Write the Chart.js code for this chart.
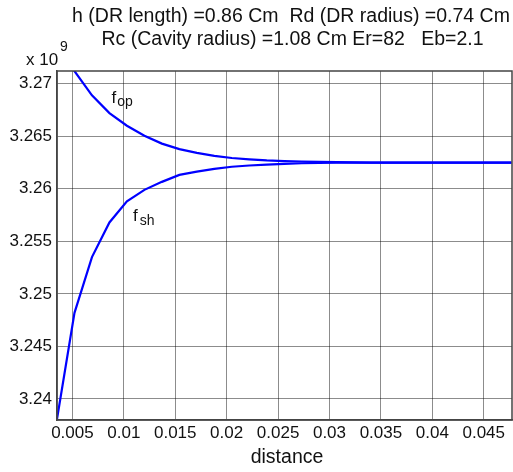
<!DOCTYPE html>
<html lang="en">

<head>
    <meta charset="UTF-8">
    <title>fop / fsh vs distance</title>
    <script src="https://cdn.jsdelivr.net/npm/chart.js"></script>
    <style>
        html, body { margin: 0; padding: 0; background: #fff; }
        #wrap { width: 513px; height: 472px; }
    </style>
</head>

<body>
    <div id="wrap">
        <canvas id="freqChart" width="513" height="472"></canvas>
    </div>

    <script>
        // distance (x) and the two resonance curves, in units of 1e9 Hz
        const distance = [0.0035, 0.0052, 0.0069, 0.0086, 0.0103, 0.012, 0.0137, 0.0154, 0.0171, 0.0188,
            0.0205, 0.0222, 0.0239, 0.0256, 0.0273, 0.029, 0.0307, 0.0324, 0.0341, 0.0358,
            0.0375, 0.0392, 0.0409, 0.0426, 0.0443, 0.046, 0.0477];
        const fop = [3.2741, 3.2712, 3.2689, 3.2672, 3.2660, 3.26505, 3.2643, 3.26378, 3.26342, 3.26314,
            3.26293, 3.2628, 3.2627, 3.26264, 3.2626, 3.26256, 3.26253, 3.26251, 3.2625, 3.2625,
            3.2625, 3.2625, 3.2625, 3.2625, 3.2625, 3.2625, 3.2625];
        const fsh = [3.2381, 3.2482, 3.2535, 3.2568, 3.2588, 3.2599, 3.26066, 3.26132, 3.26164, 3.2619,
            3.2621, 3.26222, 3.2623, 3.26238, 3.26243, 3.26247, 3.26249, 3.2625, 3.2625, 3.2625,
            3.2625, 3.2625, 3.2625, 3.2625, 3.2625, 3.2625, 3.2625];

        const xTicks = [0.005, 0.01, 0.015, 0.02, 0.025, 0.03, 0.035, 0.04, 0.045];
        const xTickLabels = ['0.005', '0.01', '0.015', '0.02', '0.025', '0.03', '0.035', '0.04', '0.045'];
        const yTicks = [3.24, 3.245, 3.25, 3.255, 3.26, 3.265, 3.27];
        const yTickLabels = ['3.24', '3.245', '3.25', '3.255', '3.26', '3.265', '3.27'];

        const titleLines = ['h (DR length) =0.86 Cm  Rd (DR radius) =0.74 Cm', 'Rc (Cavity radius) =1.08 Cm Er=82   Eb=2.1'];

        const FONT = '"Liberation Sans", Arial, sans-serif';

        const toPoints = (ys) => distance.map((x, i) => ({ x: x, y: ys[i] }));

        // titles, exponent, curve names and the plot box
        const textPlugin = {
            id: 'textPlugin',
            afterDraw(chart) {
                const ctx = chart.ctx;
                const area = chart.chartArea;
                const xs = chart.scales.x;
                const ys = chart.scales.y;
                ctx.save();

                ctx.strokeStyle = '#444';
                ctx.lineWidth = 1.5;
                ctx.strokeRect(area.left, area.top, area.right - area.left, area.bottom - area.top);

                ctx.fillStyle = '#111';
                ctx.textBaseline = 'middle';
                ctx.textAlign = 'center';
                ctx.font = '19.5px ' + FONT;
                ctx.fillText(titleLines[0], 291, 17);
                ctx.fillText(titleLines[1], 292.5, 39.5);

                ctx.fillText('distance', 287, 458);

                // x 10^9
                ctx.textAlign = 'left';
                ctx.font = '17px ' + FONT;
                ctx.fillText('x 10', 26, 60);
                ctx.font = '14px ' + FONT;
                ctx.fillText('9', 60, 47);

                // curve names
                ctx.font = '17px ' + FONT;
                ctx.fillText('f', xs.getPixelForValue(0.0088), ys.getPixelForValue(3.26865));
                ctx.font = '14px ' + FONT;
                ctx.fillText('op', xs.getPixelForValue(0.00935), ys.getPixelForValue(3.2682));

                ctx.font = '17px ' + FONT;
                ctx.fillText('f', xs.getPixelForValue(0.0109), ys.getPixelForValue(3.2574));
                ctx.font = '14px ' + FONT;
                ctx.fillText('sh', xs.getPixelForValue(0.01155), ys.getPixelForValue(3.2569));

                ctx.restore();
            }
        };

        const gridStyle = {
            color: 'rgba(0, 0, 0, 0.45)',
            lineWidth: 1,
            drawTicks: false
        };

        const ctx = document.getElementById('freqChart').getContext('2d');
        const chart = new Chart(ctx, {
            type: 'line',
            data: {
                datasets: [{
                    label: 'fop',
                    data: toPoints(fop),
                    borderColor: '#0000ff',
                    borderWidth: 2.2,
                    pointRadius: 0,
                    tension: 0,
                    fill: false
                }, {
                    label: 'fsh',
                    data: toPoints(fsh),
                    borderColor: '#0000ff',
                    borderWidth: 2.2,
                    pointRadius: 0,
                    tension: 0,
                    fill: false
                }]
            },
            options: {
                responsive: false,
                animation: false,
                layout: { padding: { top: 71, right: 1, left: 0, bottom: 0 } },
                plugins: {
                    legend: { display: false },
                    tooltip: { enabled: false }
                },
                scales: {
                    x: {
                        type: 'linear',
                        min: 0.0035,
                        max: 0.04775,
                        afterBuildTicks: (scale) => { scale.ticks = xTicks.map(v => ({ value: v })); },
                        afterFit: (scale) => { scale.height = 52; },
                        ticks: {
                            autoSkip: false,
                            maxRotation: 0,
                            padding: 3,
                            color: '#111',
                            font: { family: FONT, size: 17 },
                            callback: (v, i) => xTickLabels[i]
                        },
                        grid: gridStyle,
                        border: { color: '#444', width: 1.5 }
                    },
                    y: {
                        type: 'linear',
                        min: 3.238,
                        max: 3.27121,
                        afterBuildTicks: (scale) => { scale.ticks = yTicks.map(v => ({ value: v })); },
                        afterFit: (scale) => { scale.width = 57; },
                        ticks: {
                            autoSkip: false,
                            padding: 5,
                            color: '#111',
                            font: { family: FONT, size: 17 },
                            callback: (v, i) => yTickLabels[i]
                        },
                        grid: gridStyle,
                        border: { color: '#444', width: 1.5 }
                    }
                }
            },
            plugins: [textPlugin]
        });
    </script>
</body>

</html>
